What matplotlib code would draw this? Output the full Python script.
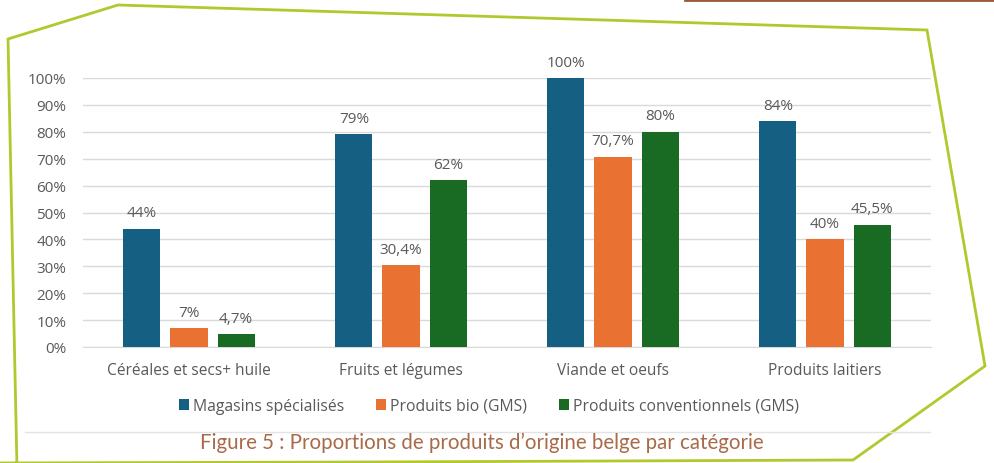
import matplotlib
matplotlib.use("Agg")
import matplotlib.pyplot as plt
import numpy as np

categories = ["Céréales et secs+ huile", "Fruits et légumes", "Viande et oeufs", "Produits laitiers"]
series_names = ["Magasins spécialisés", "Produits bio (GMS)", "Produits conventionnels (GMS)"]
magasins = [44, 79, 100, 84]
bio = [7, 30.4, 70.7, 40]
conv = [4.7, 62, 80, 45.5]
labels_mag = ["44%", "79%", "100%", "84%"]
labels_bio = ["7%", "30,4%", "70,7%", "40%"]
labels_conv = ["4,7%", "62%", "80%", "45,5%"]
yticks = [0, 10, 20, 30, 40, 50, 60, 70, 80, 90, 100]
caption = "Figure 5 : Proportions de produits d’origine belge par catégorie"

colors = ["#156082", "#E97132", "#196B24"]
txtcol = "#595959"
W, H = 994, 464
fig = plt.figure(figsize=(W / 100, H / 100), dpi=100)
plt.rcParams['font.family'] = ['Open Sans', 'DejaVu Sans']

ax = fig.add_axes([83 / W, 1 - 348 / H, 848 / W, (348 - 79) / H])
x = np.arange(len(categories))
bw = 0.175
step = 0.222
for i, (vals, labs) in enumerate([(magasins, labels_mag), (bio, labels_bio), (conv, labels_conv)]):
    xs = x + (i - 1) * step
    ax.bar(xs, vals, width=bw, color=colors[i], zorder=3, label=series_names[i])
    for xx, v, lab in zip(xs, vals, labs):
        ax.annotate(lab, (xx, v), xytext=(0, 6), textcoords="offset points",
                    ha="center", va="bottom", fontsize=11, color=txtcol)
ax.set_xlim(-0.5, len(categories) - 0.5)
ax.set_ylim(0, 100)
ax.set_yticks(yticks)
ax.set_yticklabels([f"{t}%" for t in yticks], fontsize=11, color=txtcol)
ax.set_xticks(x)
ax.set_xticklabels(categories, fontsize=11.2, color=txtcol)
ax.tick_params(length=0, pad=12)
ax.tick_params(axis='x', pad=11)
ax.grid(axis='y', color="#d9d9d9", lw=1, zorder=0)
ax.set_axisbelow(True)
for s in ax.spines.values():
    s.set_visible(False)
ax.spines['bottom'].set_visible(True)
ax.spines['bottom'].set_color("#d9d9d9")
ax.patch.set_alpha(0)

leg = fig.legend(loc="center", bbox_to_anchor=(489 / W, 1 - 407 / H), ncol=3, frameon=False,
                 fontsize=11.3, handlelength=0.65, handleheight=0.65, handletextpad=0.25,
                 columnspacing=2.0, labelcolor=txtcol)

ov = fig.add_axes([0, 0, 1, 1], zorder=-1)
ov.set_xlim(0, W)
ov.set_ylim(H, 0)
ov.axis("off")
poly_x = [17, 8, 118, 927, 985, 853, 367, -10]
poly_y = [470, 40, 6, 31, 367, 461, 463, 464]
ov.plot(poly_x, poly_y, color="#b3c72e", lw=2, solid_joinstyle="miter")
ov.plot([685, 994], [0.8, 0.8], color="#9a5a3a", lw=2)
ov.plot([25, 930], [433, 433], color="#e3e3e3", lw=1)
ov.text(482, 443, caption, ha="center", va="center", fontsize=14.8, color="#a86a48",
        family=["Lato", "DejaVu Sans"])

fig.savefig("out.png", dpi=100)
